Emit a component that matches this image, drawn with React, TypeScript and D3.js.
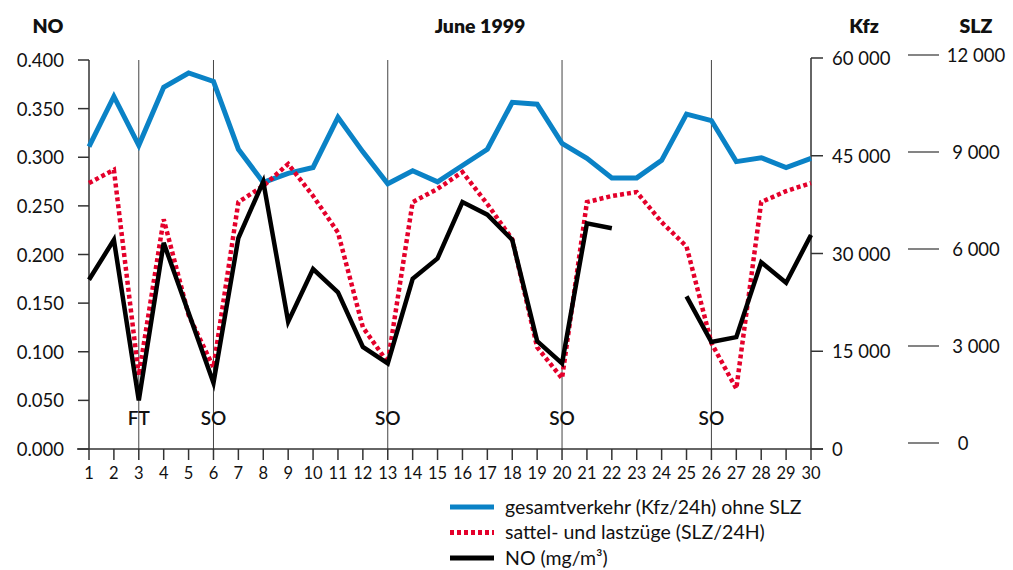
import React from 'react';
import * as d3 from 'd3';

// Days of June 1999
const days = d3.range(1, 31);

// gesamtverkehr (Kfz/24h) ohne SLZ
const kfz = [
  46400, 54100, 46600, 55500, 57700, 56400, 46000, 40900, 42300, 43200,
  50900, 45600, 40700, 42700, 41000, 43500, 46000, 53200, 52900, 46900,
  44600, 41600, 41600, 44300, 51400, 50400, 44100, 44700, 43200, 44600,
];

// sattel- und lastzüge (SLZ/24H)
const slz = [
  8040, 8450, 2090, 6920, 3960, 2340, 7450, 7950, 8630, 7640,
  6510, 3580, 2490, 7450, 7860, 8380, 7390, 6300, 2960, 2000,
  7450, 7640, 7760, 6830, 6080, 3090, 1680, 7450, 7790, 8040,
];

// NO (mg/m³), gap on 23 and 24
const no: (number | null)[] = [
  0.174, 0.215, 0.050, 0.212, 0.140, 0.068, 0.217, 0.275, 0.131, 0.185,
  0.161, 0.105, 0.088, 0.175, 0.196, 0.254, 0.241, 0.215, 0.111, 0.088,
  0.232, 0.227, null, null, 0.157, 0.110, 0.115, 0.192, 0.171, 0.220,
];

const noTicks = d3.range(0, 0.4001, 0.05);
const kfzTicks = [0, 15000, 30000, 45000, 60000];
const slzTicks = [0, 3000, 6000, 9000, 12000];

const markers = [
  { day: 3, label: 'FT' },
  { day: 6, label: 'SO' },
  { day: 13, label: 'SO' },
  { day: 20, label: 'SO' },
  { day: 26, label: 'SO' },
];

const legendItems = [
  { label: 'gesamtverkehr (Kfz/24h) ohne SLZ', color: '#0a82c6', dash: null },
  { label: 'sattel- und lastzüge (SLZ/24H)', color: '#e4002b', dash: '4,3' },
  { label: 'NO (mg/m³)', color: '#000', dash: null },
];

const FONT = 'Lato, "Noto Sans", sans-serif';
const fmt = (v: number) => d3.format(',')(v).replace(/,/g, ' ');

const App = () => {
  // scales
  const x = d3.scaleLinear().domain([1, 30]).range([89, 811]);
  const yNo = d3.scaleLinear().domain([0, 0.4]).range([449, 60]);
  const yKfz = d3.scaleLinear().domain([0, 60000]).range([449, 58]);
  const ySlz = d3.scaleLinear().domain([0, 12000]).range([443, 55]);

  const kfzLine = d3.line<number>().x((_, i) => x(days[i])).y(d => yKfz(d));
  const slzLine = d3.line<number>().x((_, i) => x(days[i])).y(d => ySlz(d));
  const noLine = d3
    .line<number | null>()
    .defined(d => d !== null)
    .x((_, i) => x(days[i]))
    .y(d => yNo(d as number));

  const axisColor = '#333';
  const right = x(30);

  return (
    <svg
      width={1013}
      height={570}
      style={{ position: 'absolute', left: 0, top: 0, background: '#fff' }}
      fontFamily={FONT}
      fill="#111"
    >
      {/* titles */}
      <text x={48} y={33} textAnchor="middle" fontSize={19.5} fontWeight={800}>NO</text>
      <text x={480} y={33} textAnchor="middle" fontSize={19.5} fontWeight={800}>June 1999</text>
      <text x={864} y={33} textAnchor="middle" fontSize={19.5} fontWeight={800}>Kfz</text>
      <text x={976} y={33} textAnchor="middle" fontSize={19.5} fontWeight={800}>SLZ</text>

      {/* vertical reference lines */}
      {markers.map(m => (
        <g key={m.day}>
          <line x1={x(m.day)} x2={x(m.day)} y1={yNo(0.4)} y2={yNo(0)} stroke="#444" strokeWidth={1} />
          <text x={x(m.day)} y={425} textAnchor="middle" fontSize={19} fontWeight={600}>{m.label}</text>
        </g>
      ))}

      {/* left NO axis */}
      <line x1={89} x2={89} y1={yNo(0.4)} y2={yNo(0)} stroke={axisColor} strokeWidth={1.5} />
      {noTicks.map(t => (
        <g key={t}>
          <line x1={78} x2={89} y1={yNo(t)} y2={yNo(t)} stroke={axisColor} strokeWidth={1.5} />
          <text x={64} y={yNo(t) + 7} textAnchor="end" fontSize={18.5}>{t.toFixed(3)}</text>
        </g>
      ))}

      {/* right Kfz axis */}
      <line x1={right} x2={right} y1={yKfz(60000)} y2={yKfz(0)} stroke={axisColor} strokeWidth={1.5} />
      {kfzTicks.map(t => (
        <g key={t}>
          <line x1={right} x2={right + 12} y1={yKfz(t)} y2={yKfz(t)} stroke={axisColor} strokeWidth={1.5} />
          <text x={832} y={yKfz(t) + 7} fontSize={18.5}>{fmt(t)}</text>
        </g>
      ))}

      {/* SLZ axis */}
      {slzTicks.map(t => (
        <g key={t}>
          <line x1={908} x2={939} y1={ySlz(t)} y2={ySlz(t)} stroke={axisColor} strokeWidth={1.2} />
          <text x={t === 0 ? 963 : 976} y={ySlz(t) + 7} textAnchor="middle" fontSize={18.5}>{fmt(t)}</text>
        </g>
      ))}

      {/* x axis */}
      <line x1={77} x2={right + 12} y1={449} y2={449} stroke={axisColor} strokeWidth={1.5} />
      {days.map(d => (
        <g key={d}>
          <line x1={x(d)} x2={x(d)} y1={449} y2={460} stroke={axisColor} strokeWidth={1.5} />
          <text x={x(d)} y={479} textAnchor="middle" fontSize={16.5}>{d}</text>
        </g>
      ))}

      {/* data lines */}
      <path d={kfzLine(kfz) ?? ''} fill="none" stroke="#0a82c6" strokeWidth={5} />
      <path d={slzLine(slz) ?? ''} fill="none" stroke="#e4002b" strokeWidth={4.5} strokeDasharray="4,3" />
      <path d={noLine(no) ?? ''} fill="none" stroke="#000" strokeWidth={4.5} />

      {/* legend */}
      {legendItems.map((item, i) => (
        <g key={item.label} transform={`translate(0, ${507 + i * 25.5})`}>
          <line x1={450} x2={494} y1={0} y2={0} stroke={item.color} strokeWidth={5}
            strokeDasharray={item.dash ?? undefined} />
          <text x={505} y={6.5} fontSize={19.5}>{item.label}</text>
        </g>
      ))}
    </svg>
  );
};

export default App;
